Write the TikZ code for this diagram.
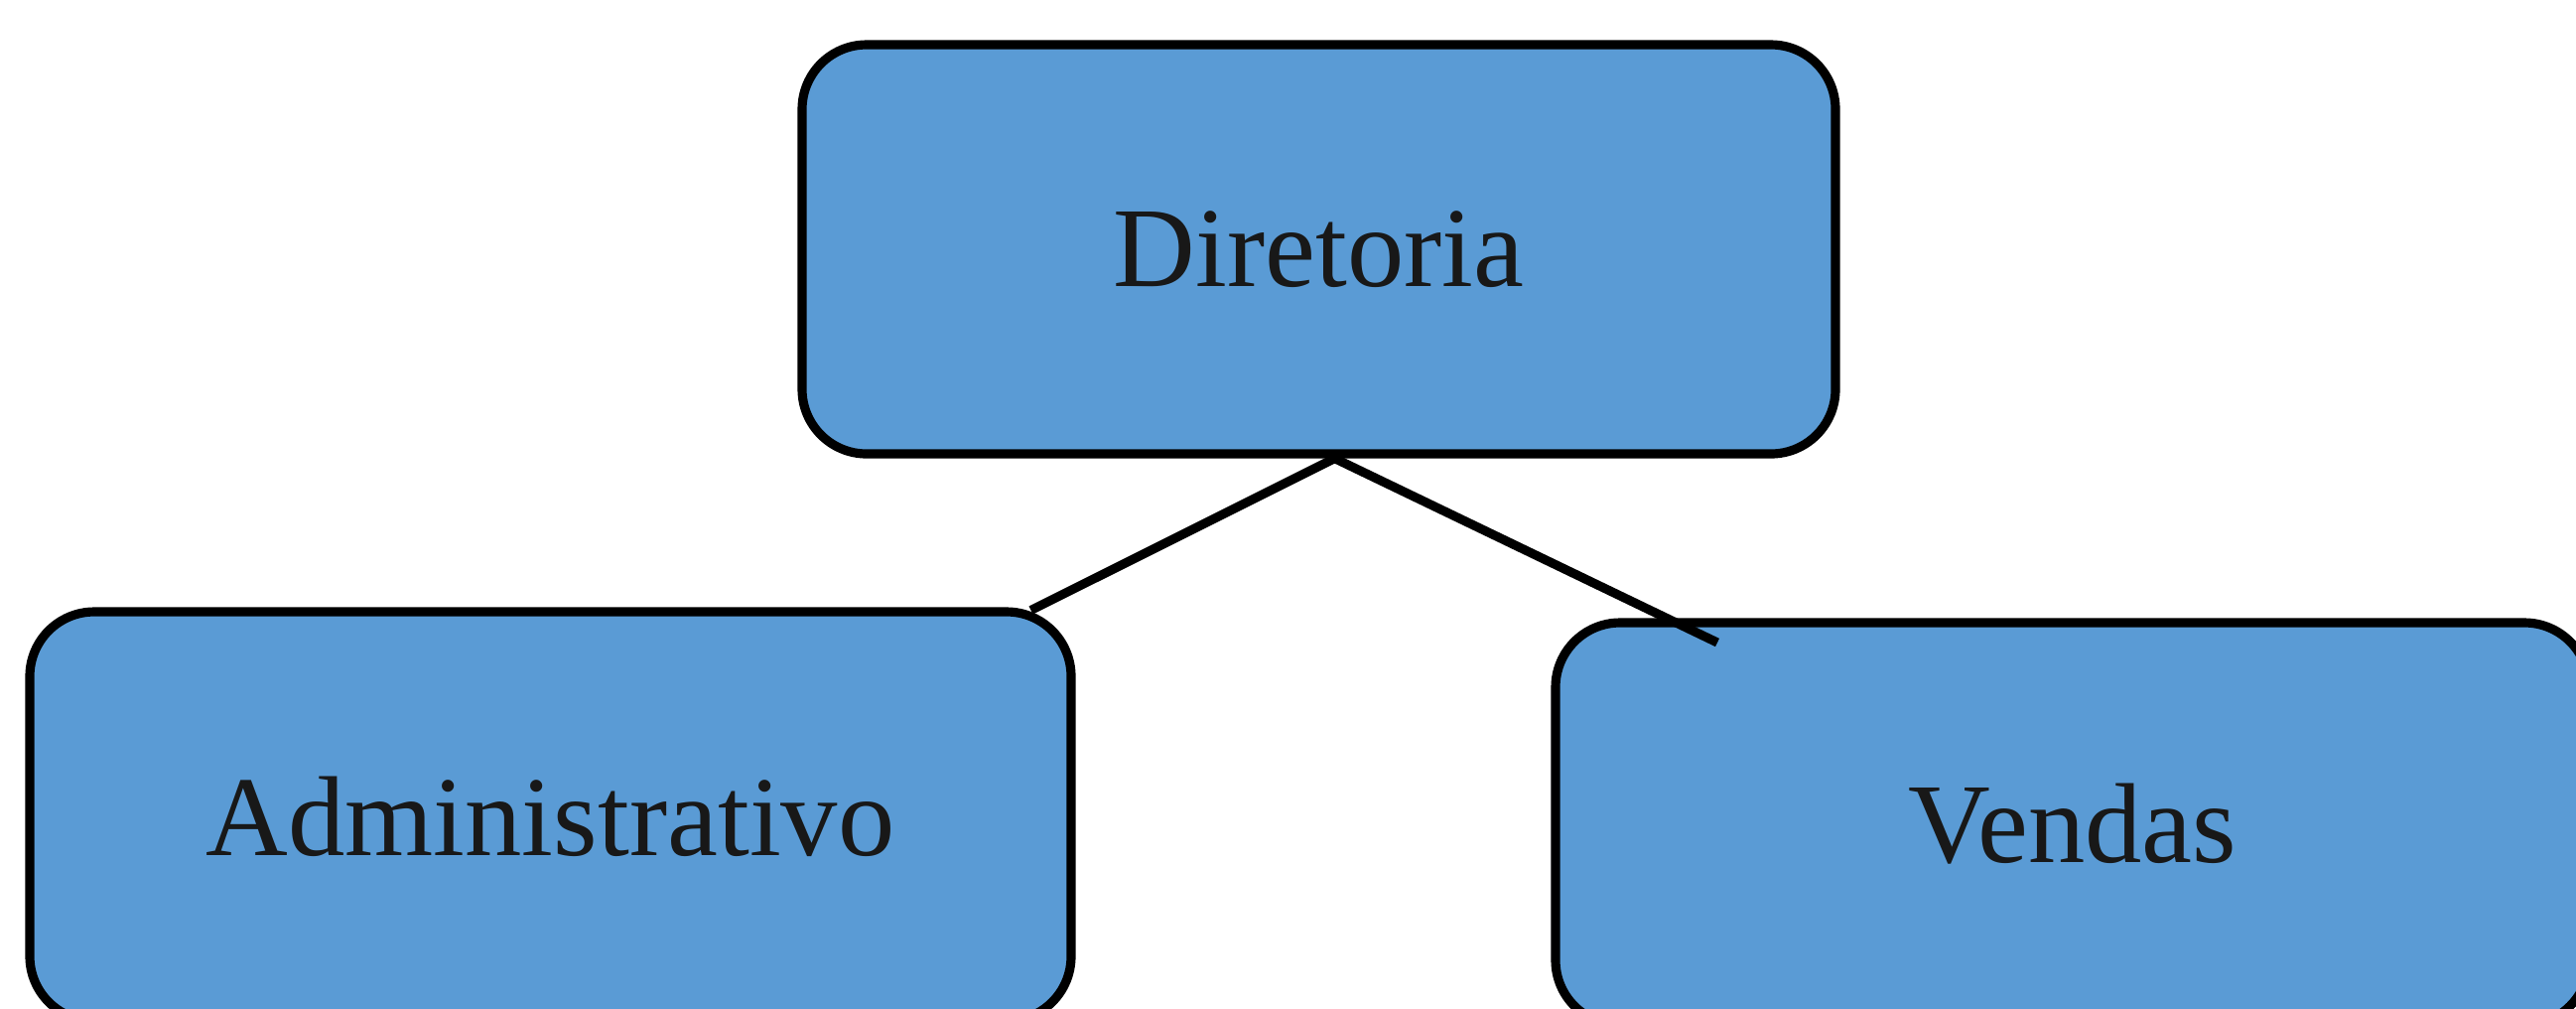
\documentclass[tikz,border=0pt]{standalone}
\usepackage{fontspec}
\setmainfont{Liberation Serif}
\usepackage{tikz}
\usetikzlibrary{positioning,calc}
\definecolor{deptblue}{HTML}{5A9BD5}
\definecolor{labelgray}{HTML}{181818}

\begin{document}
\begin{tikzpicture}[-,semithick,
font=\fontsize{32.6}{38}\selectfont]
   \tikzstyle{dept}=[rectangle,rounded corners=6.5mm,draw=black,line width=2.6pt,
   fill=deptblue,text=labelgray,inner sep=0pt]
   \tikzstyle{link}=[draw=black,line width=2.6pt]
\useasboundingbox (0,0) rectangle (25.95,-10.15);
\node[dept, minimum width=10.41cm, minimum height=4.12cm] (dir) at (13.285,-2.51) {Diretoria};
  \node[dept, minimum width=10.49cm, minimum height=4.12cm] (adm) at (5.545,-8.22) {Administrativo};
  \node[dept, minimum width=10.41cm, minimum height=4.05cm] (ven) at (20.875,-8.295) {Vendas};
  \coordinate (ventip) at (17.3,-6.47);

 \path[link] ([xshift=1.6mm]dir.south) -- ([xshift=-4.5mm, yshift=-0.3mm]adm.north east)
        ([xshift=1.6mm]dir.south) -- (ventip);
\end{tikzpicture}
\end{document}
